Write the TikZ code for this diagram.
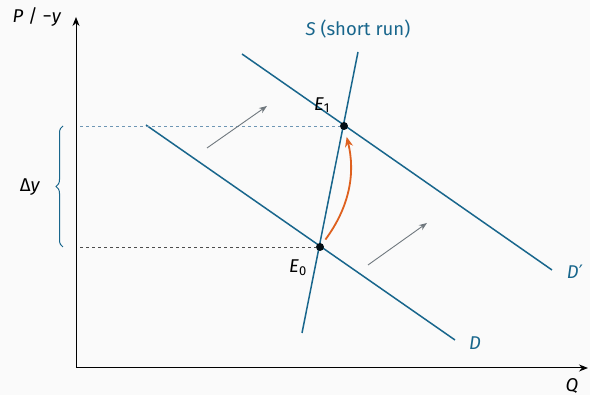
\documentclass[tikz,border=0pt]{standalone}
\usepackage{fontspec}
\setmainfont{Fira Sans}
\newfontfamily\symfont{DejaVu Sans}
\usetikzlibrary{arrows.meta,decorations.pathreplacing,positioning}
\definecolor{BgColor}{RGB}{250,250,250}
\definecolor{CurveColor}{RGB}{24,102,140}
\definecolor{ShiftColor}{RGB}{222,96,30}
\definecolor{HintColor}{RGB}{112,120,126}
\definecolor{GuideColor}{RGB}{110,150,180}
\newcommand{\mv}[1]{\textit{#1}}

\begin{document}
\begin{tikzpicture}[x=1pt,y=1pt,font=\fontsize{18.5}{21}\selectfont,
  curve/.style={CurveColor,line width=1.5pt},
  axis/.style={line width=1pt,-{Stealth[length=9pt,width=7pt]}},
  guide/.style={dashed,line width=0.8pt},
  hint/.style={HintColor,line width=0.9pt,-{Stealth[length=8pt,width=6pt]}},
  eq/.style={circle,fill=black!85!CurveColor,inner sep=0pt,minimum size=8pt}]
\fill[BgColor] (0,0) rectangle (590,395);
\useasboundingbox (0,0) rectangle (590,395);
% axes
\coordinate (O) at (76,27);
\coordinate (ytop) at (76,378);
\coordinate (xend) at (588,27);
\draw[axis] (O) -- (ytop);
\draw[axis] (O) -- (xend);
\node (plabel) at (37,378) {\mv{P} / −\mv{y}};
\node (qlabel) at (572,9) {\mv{Q}};
% curves
\coordinate (Sa) at (302,62);
\coordinate (Sb) at (358,343);
\coordinate (Da) at (146,270);
\coordinate (Db) at (455,55);
\coordinate (Dpa) at (242,341);
\coordinate (Dpb) at (552,125);
\draw[curve] (Sa) -- (Sb);
\draw[curve] (Da) -- (Db);
\draw[curve] (Dpa) -- (Dpb);
\node[CurveColor] (slabel) at (358,366) {\mv{S} (short run)};
\node[CurveColor] (dlabel) at (475,52) {\mv{D}};
\node[CurveColor] (dplabel) at (575,123) {\mv{D}{\symfont ′}};
% equilibria
\node[eq] (E0) at (320,148) {};
\node[eq] (E1) at (344,269) {};
\node (e0label) at (298,127) {\mv{E}\textsubscript{0}};
\node (e1label) at (322,290) {\mv{E}\textsubscript{1}};
\coordinate (g0) at (80,148);
\coordinate (g1) at (80,269);
\draw[guide,black!70] (g0) -- (E0);
\draw[guide,GuideColor] (g1) -- (E1);
% brace
\coordinate (b0) at (63,148);
\coordinate (b1) at (63,269);
\draw[CurveColor,line width=1pt,decorate,decoration={brace,amplitude=7pt}] (b0) -- (b1);
\node (dylabel) at (30,208) {Δ\mv{y}};
% shift hints
\coordinate (h1a) at (207,247);
\coordinate (h1b) at (267,289);
\coordinate (h2a) at (368,130);
\coordinate (h2b) at (427,172);
\draw[hint] (h1a) -- (h1b);
\draw[hint] (h2a) -- (h2b);
% movement
\draw[ShiftColor,line width=1.8pt,-{Stealth[length=10pt,width=8pt]},shorten <=5pt,shorten >=7pt]
  (E0) to[bend right=25] (E1);
\end{tikzpicture}
\end{document}
